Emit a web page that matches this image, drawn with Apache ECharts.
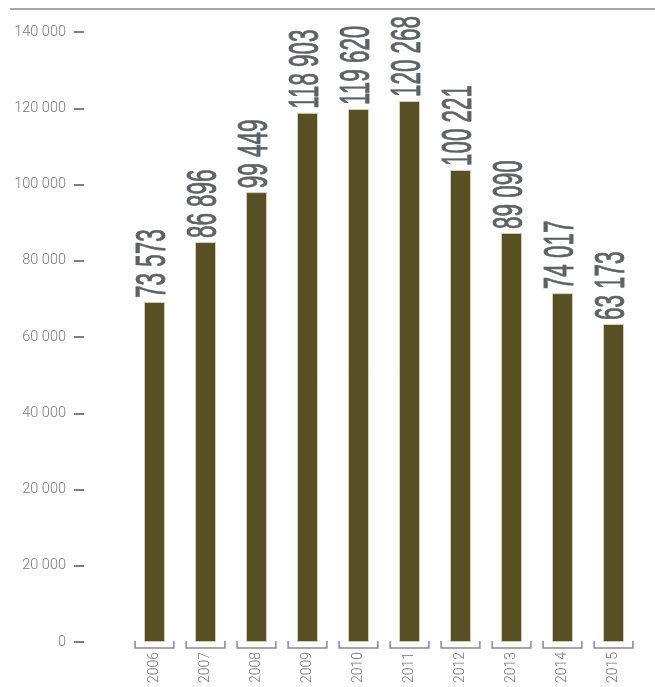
<!DOCTYPE html>
<html>
<head>
<meta charset="utf-8">
<script src="https://cdn.jsdelivr.net/npm/echarts@6/dist/echarts.min.js"></script>
<style>
html,body{margin:0;padding:0;background:#fff;}
#chart{width:655px;height:687px;}
</style>
</head>
<body>
<div id="chart"></div>
<script>
// Categories
var years = ['2006','2007','2008','2009','2010','2011','2012','2013','2014','2015'];
// Value texts printed above the bars
var valueLabels = ['73 573','86 896','99 449','118 903','119 620','120 268','100 221','89 090','74 017','63 173'];
// Bar heights as drawn in axis units (axis 0..160 000, ticks every 20 000)
var barHeights = [89200, 104900, 118000, 138800, 139800, 141900, 123800, 107300, 91500, 83400];
// Tick labels as printed on the y axis (bottom to top)
var tickLabels = ['0','20 000','20 000','40 000','60 000','80 000','100 000','120 000','140 000'];

var chart = echarts.init(document.getElementById('chart'), null, {renderer:'canvas'});

var labelFontFamily = "'Liberation Sans Narrow','Liberation Sans',sans-serif";
var labelFontSize = 43;
var labelFontWeight = 'normal';
// fit the condensed look: measure a label and compress along the text direction
var mctx = document.createElement('canvas').getContext('2d');
mctx.font = labelFontWeight + ' ' + labelFontSize + 'px ' + labelFontFamily;
var refW = mctx.measureText('120 268').width;
var labelScale = 81 / refW;

var option = {
  animation: false,
  backgroundColor: '#ffffff',
  grid: {left: 129, right: 16, top: 32, bottom: 45, containLabel: false},
  xAxis: {
    type: 'category',
    data: years,
    axisLine: {show: false},
    axisTick: {show: false},
    axisLabel: {rotate: 90, margin: 10, color: '#777777', fontSize: 14, fontFamily: 'Roboto, sans-serif', fontWeight: 300}
  },
  yAxis: {
    type: 'value',
    min: 0, max: 160000, interval: 20000,
    position: 'left',
    offset: 45,
    splitLine: {show: false},
    axisLine: {show: false},
    axisTick: {show: true, length: 10, lineStyle: {color: '#555', width: 1.5}},
    axisLabel: {
      margin: 18, color: '#7a7a7a', fontSize: 14.5, fontFamily: 'Roboto, sans-serif', fontWeight: 300,
      formatter: function (v) { return tickLabels[Math.round(v / 20000)]; }
    }
  },
  graphic: [{
    type: 'line', shape: {x1: 10, y1: 9, x2: 655, y2: 9},
    style: {stroke: '#8a8a8a', lineWidth: 1.5}
  }],
  series: [
    {
      type: 'bar',
      data: barHeights,
      barWidth: 21,
      itemStyle: {color: '#584f24', borderColor: '#d4ceb8', borderWidth: 1}
    },
    {
      type: 'custom',
      clip: false,
      data: years.map(function (y, i) { return [i, barHeights[i]]; }),
      renderItem: function (params, api) {
        var i = api.value(0);
        var p = api.coord([i, api.value(1)]);
        return {
          type: 'text',
          x: p[0] - 1,
          y: p[1] - 4,
          rotation: Math.PI / 2,
          scaleX: labelScale,
          style: {
            text: valueLabels[i],
            fontSize: labelFontSize,
            fontWeight: labelFontWeight,
            fontFamily: labelFontFamily,
            fill: '#5d6064',
            stroke: '#5d6064',
            lineWidth: 0.9,
            align: 'left',
            verticalAlign: 'middle'
          }
        };
      }
    },
    {
      type: 'custom',
      clip: false,
      data: years.map(function (y, i) { return [i, 0]; }),
      renderItem: function (params, api) {
        var i = api.value(0);
        var c = api.coord([i, 0]);
        var band = api.size([1, 0])[0];
        var w = band * 0.76;
        return {
          type: 'polyline',
          shape: {points: [[c[0] - w / 2, c[1] - 1], [c[0] - w / 2, c[1] + 6], [c[0] + w / 2, c[1] + 6], [c[0] + w / 2, c[1] - 1]]},
          style: {stroke: '#8a8a8a', lineWidth: 1.5, fill: null}
        };
      }
    }
  ]
};
chart.setOption(option);
</script>
</body>
</html>
